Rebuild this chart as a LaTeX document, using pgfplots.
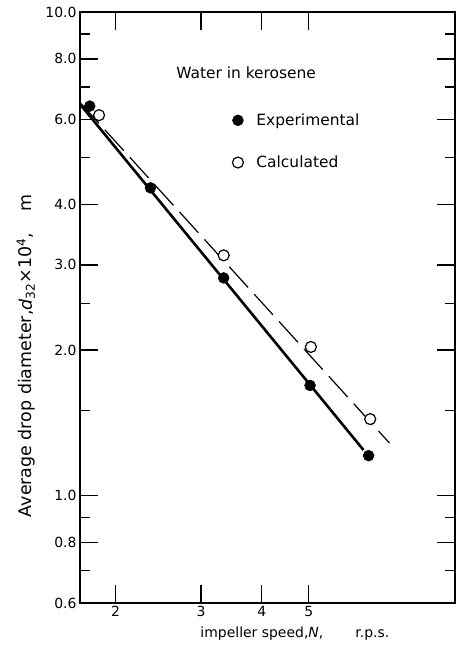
\documentclass[border=0pt]{standalone}
\usepackage{fontspec}
\setmainfont{DejaVu Sans}
\usepackage{pgfplots}
\usepackage{pgfplotstable}
\pgfplotsset{compat=1.18}

% drop diameter d32 x 10^4 (m) against impeller speed N (r.p.s.)
\pgfplotstableread{
N d
1.77 6.39
2.36 4.33
3.34 2.82
5.03 1.69
6.64 1.21
}\experimental
\pgfplotstableread{
N d
1.85 6.12
3.34 3.14
5.05 2.03
6.69 1.44
}\calculated

\begin{document}
\begin{tikzpicture}
\begin{axis}[
    at={(0,0)}, anchor=south west,
    scale only axis,
    width=375bp, height=591bp,
    xmode=log, ymode=log,
    xmin=1.69, xmax=10, ymin=0.6, ymax=10,
    xtick={2,3,4,5}, xticklabels={2,3,4,5},
    ytick={0.6,0.8,1,2,3,4,6,8,10},
    yticklabels={0.6,0.8,1.0,2.0,3.0,4.0,6.0,8.0,10.0},
    minor xtick={},
    minor ytick={0.7,0.9,1.5,2.5,5,7,9},
    xtick pos=both, ytick pos=both,
    tick align=inside,
    major tick length=18bp, minor tick length=10bp,
    axis line style={line width=1.3bp},
    every tick/.style={black, line width=1.3bp},
    tick label style={font=\fontsize{14}{16}\selectfont},
    /pgf/number format/assume math mode=true,
    xlabel={impeller speed,\textit{N},\hspace{2.3em}r.p.s.},
    xlabel style={at={(axis description cs:0.573,-0.0525)}, anchor=center, font=\fontsize{14}{16}\selectfont},
    ylabel={Average drop diameter,\textit{d}\textsubscript{32}×10\textsuperscript{4},\hspace{1.2em}m},
    ylabel style={at={(axis description cs:-0.144,0.418)}, anchor=center, font=\fontsize{17.5}{20}\selectfont},
    legend style={draw=none, fill=none, at={(axis description cs:0.398,0.835)}, anchor=north west,
        font=\fontsize{15.5}{18}\selectfont, row sep=25bp,
        /tikz/every odd column/.append style={column sep=11bp}},
    legend cell align=left,
]
    % fitted lines
    \addplot[black, line width=2.6bp, forget plot] coordinates {(1.69,6.45) (6.48,1.243)};
    \addplot[black, line width=1.2bp, dash pattern=on 28bp off 9bp, forget plot] coordinates {(1.69,6.5) (7.33,1.285)};
    % points
    \addplot[only marks, mark=*, mark size=5.5bp, black] table {\experimental};
    \addlegendentry{Experimental}
    \addplot[only marks, mark=*, mark size=5.5bp, black, mark options={fill=white, line width=1.2bp}] table {\calculated};
    \addlegendentry{Calculated}
    \node[font=\fontsize{15.5}{18}\selectfont] at (rel axis cs:0.443,0.898) {Water in kerosene};
\end{axis}
\pgfresetboundingbox
\useasboundingbox (-80bp,-46bp) rectangle (380bp,603bp);
\end{tikzpicture}
\end{document}
